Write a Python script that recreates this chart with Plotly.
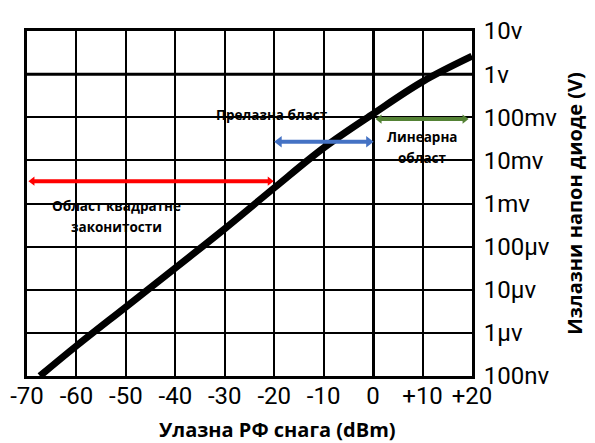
import numpy as np
import plotly.graph_objects as go

# ---- data ----
rf_power_dbm = [-67.4, -60, -50, -40, -30, -20, -10, 0, 10, 20]
diode_voltage = [1e-7, 5.0e-7, 4.0e-6, 3.2e-5, 2.6e-4, 2.3e-3, 1.95e-2, 1.2e-1, 6.7e-1, 2.6]

x_tick_vals = [-70, -60, -50, -40, -30, -20, -10, 0, 10, 20]
x_tick_text = ["-70", "-60", "-50", "-40", "-30", "-20", "-10", "0", "+10", "+20"]
y_tick_vals = [1e-7, 1e-6, 1e-5, 1e-4, 1e-3, 1e-2, 1e-1, 1, 10]
y_tick_text = ["100nv", "1μv", "10μv", "100μv", "1mv", "10mv", "100mv", "1v", "10v"]

# region arrows: (start dBm, end dBm, level V)
square_law_range = [-68.9, -20.9]
square_law_level = 3.3e-3
transition_range = [-19.0, -0.9]
transition_level = 2.7e-2
linear_range = [1.3, 18.5]
linear_level = 9.1e-2

TICK_FONT = "Roboto, Liberation Sans, sans-serif"
TEXT_FONT = "Open Sans, Noto Sans, sans-serif"

fig = go.Figure()

# thicker reference line at 1 V
fig.add_trace(go.Scatter(x=[-70, 20], y=[1, 1], mode="lines",
                         line=dict(color="black", width=3), hoverinfo="skip",
                         showlegend=False))

# main curve
fig.add_trace(go.Scatter(x=rf_power_dbm, y=diode_voltage, mode="lines",
                         line=dict(color="black", width=7, shape="spline", smoothing=1.0),
                         showlegend=False))

def add_arrow(rng, level, color, width, head):
    fig.add_trace(go.Scatter(
        x=rng, y=[level, level], mode="lines+markers",
        line=dict(color=color, width=width),
        marker=dict(symbol=["triangle-left", "triangle-right"], size=head,
                    color=color, line=dict(width=0)),
        showlegend=False, hoverinfo="skip"))

add_arrow(square_law_range, square_law_level, "#FF0000", 4, 8)
add_arrow(transition_range, transition_level, "#4472C4", 4, 10)
add_arrow(linear_range, linear_level, "#548235", 4, 8)

# white boxes behind labels (pixel-derived paper coords)
W, H = 445.0, 345.0
L, B = 27.0, 376.0
def px_box(x0, x1, y0, y1):
    return dict(type="rect", xref="paper", yref="paper",
                x0=(x0 - L) / W, x1=(x1 - L) / W,
                y0=(B - y1) / H, y1=(B - y0) / H,
                fillcolor="white", line=dict(width=0), layer="between")

shapes = [px_box(203, 340, 101, 130), px_box(377, 468, 123, 170), px_box(40, 192, 190, 243)]

def px_text(text, xc, yc, size=13.5):
    return dict(text=text, xref="paper", yref="paper",
                x=(xc - L) / W, y=(B - yc) / H, showarrow=False,
                xanchor="center", yanchor="middle",
                font=dict(family=TEXT_FONT, size=size, color="black", weight="bold"))

annotations = [
    px_text("Прелазна бласт", 272, 115),
    px_text("Линеарна", 422, 137),
    px_text("област", 422, 158),
    px_text("Област квадратне", 116, 206),
    px_text("законитости", 116, 227),
    px_text("Улазна РФ снага (dBm)", 277, 429, size=20),
]

fig.update_layout(
    width=595, height=443,
    margin=dict(l=27, r=123, t=31, b=67),
    paper_bgcolor="white", plot_bgcolor="white",
    template="none",
    shapes=shapes, annotations=annotations,
    showlegend=False,
    xaxis=dict(range=[-70, 20], tickvals=x_tick_vals, ticktext=x_tick_text,
               showgrid=True, gridcolor="black", gridwidth=2,
               zeroline=True, zerolinecolor="black", zerolinewidth=3,
               showline=True, linecolor="black", linewidth=3, mirror=True,
               ticks="", ticklabelstandoff=-4, tickangle=0,
               tickfont=dict(family=TICK_FONT, size=24, color="black"),
               automargin=False, fixedrange=True),
    yaxis=dict(type="log", range=[-7, 1], tickvals=y_tick_vals, ticktext=y_tick_text,
               side="right",
               showgrid=True, gridcolor="black", gridwidth=2,
               showline=True, linecolor="black", linewidth=3, mirror=True,
               ticks="", ticklabelstandoff=4,
               tickfont=dict(family=TICK_FONT, size=24, color="black"),
               title=dict(text="Излазни напон диоде (V)", standoff=12,
                          font=dict(family=TEXT_FONT, size=20, color="black", weight="bold")),
               automargin=False, fixedrange=True),
)

fig.write_html("out.html")
